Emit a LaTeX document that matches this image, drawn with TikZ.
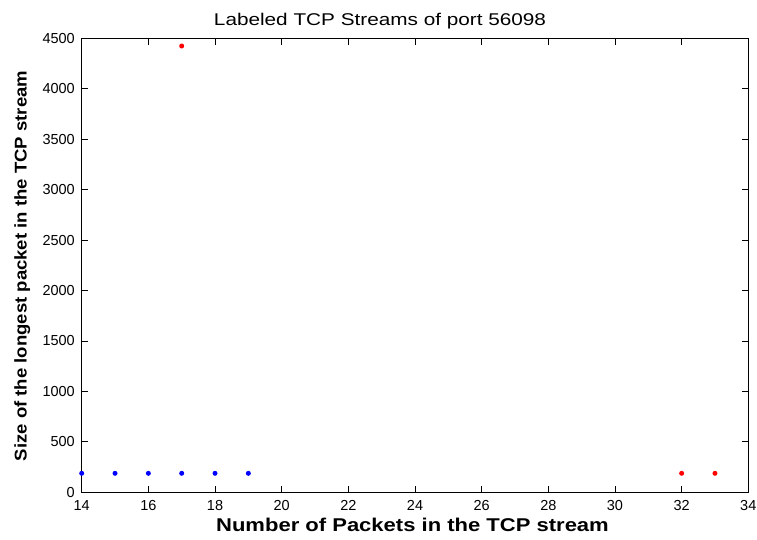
\documentclass[tikz,border=0pt]{standalone}
\usepackage{fontspec}
\setmainfont{Liberation Sans}
\begin{document}
\begin{tikzpicture}[x=1pt,y=1pt,
  xticklab/.style={font=\fontsize{14.5}{15}\selectfont, inner sep=0pt},
  yticklab/.style={font=\fontsize{14.5}{15}\selectfont, inner sep=0pt},
  axlab/.style={font=\fontsize{18.5}{19}\selectfont\bfseries, inner sep=0pt},
  ylabsty/.style={font=\fontsize{17}{18}\selectfont\bfseries, inner sep=0pt},
  titlelab/.style={font=\fontsize{17}{18}\selectfont, inner sep=0pt},
  mk/.style={inner sep=0pt, minimum size=5pt, shape=circle, fill=#1}]
\useasboundingbox (0,0) rectangle (757,-539);
\def\XL{81.7}\def\XR{748.3}\def\YT{-38.3}\def\YB{-492.3}
% axes box
\draw[line width=1.1pt] (\XL,\YT) rectangle (\XR,\YB);
% x ticks
\foreach \v in {14,16,...,34}{
  \pgfmathsetmacro{\px}{81.7+(\v-14)*33.33}
  \draw[line width=0.9pt] (\px,\YB) -- ++(0,6.5);
  \draw[line width=0.9pt] (\px,\YT) -- ++(0,-6.5);
  \node[xticklab, anchor=base] (xt\v) at (\px,-510.5) {\v};
}
% y ticks
\foreach \v in {0,500,...,4500}{
  \pgfmathsetmacro{\py}{-492.3+\v*0.10089}
  \draw[line width=0.9pt] (\XL,\py) -- ++(6.5,0);
  \draw[line width=0.9pt] (\XR,\py) -- ++(-6.5,0);
  \node[yticklab, anchor=east] (yt\v) at (75,\py) {\v};
}
% data
\foreach \v in {14,15,16,17,18,19}{
  \pgfmathsetmacro{\px}{81.7+(\v-14)*33.33}
  \node[mk=blue] (b\v) at (\px,-473.3) {};
}
\node[mk=red] (r17) at ({81.7+3*33.33},-46) {};
\node[mk=red] (r32) at ({81.7+18*33.33},-473.3) {};
\node[mk=red] (r33) at ({81.7+19*33.33},-473.3) {};
% labels
\node[titlelab, anchor=base] (title) at (380,-25) {\scalebox{1.22}[1]{Labeled TCP Streams of port 56098}};
\node[axlab, anchor=base] (xlab) at (412.5,-531.7) {\scalebox{1.19}[1]{Number of Packets in the TCP stream}};
\node[ylabsty, rotate=90, anchor=base] (ylab) at (26.5,-266) {\scalebox{1.09}[1]{Size of the longest packet in the TCP stream}};
\end{tikzpicture}
\end{document}
